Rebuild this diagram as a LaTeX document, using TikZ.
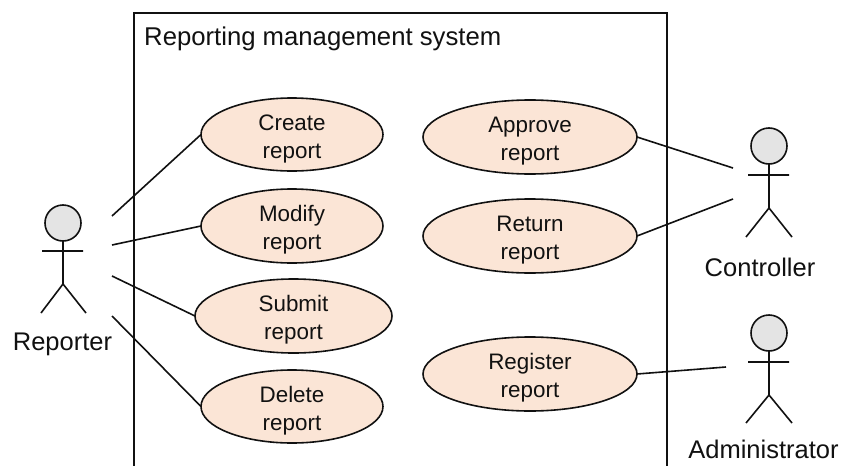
\documentclass[tikz,border=0pt]{standalone}
\usepackage{fontspec}
\setmainfont{Liberation Sans}
\usetikzlibrary{shapes.geometric}
\definecolor{usefill}{HTML}{FBE5D6}
\definecolor{headfill}{HTML}{E4E4E4}
\definecolor{ink}{HTML}{111111}
\newcommand{\uctext}[2]{\raisebox{-9.3pt}[0pt][0pt]{\begin{tabular}{@{}c@{}}#1\\#2\end{tabular}}}
\tikzset{
  usecase/.style={ellipse,draw=ink,fill=usefill,line width=1.6pt,inner sep=0pt,outer sep=0pt,text=ink,font=\fontsize{22.4}{28}\selectfont},
  head/.style={circle,draw=ink,fill=headfill,line width=1.6pt,minimum size=36pt,inner sep=0pt,outer sep=0pt},
  limb/.style={draw=ink,line width=1.6pt},
  link/.style={draw=ink,line width=1.6pt},
  actorname/.style={text=ink,font=\fontsize{25.5}{30}\selectfont,inner sep=0pt},
  title/.style={text=ink,font=\fontsize{25.7}{30}\selectfont,inner sep=0pt,anchor=west}
}
\begin{document}
\begin{tikzpicture}[x=1pt,y=-1pt]
\useasboundingbox (0,0) rectangle (844,466);
\fill[white] (0,0) rectangle (844,466);
% system boundary
\coordinate (bl) at (134,466);
\coordinate (tl) at (134,13);
\coordinate (tr) at (667,13);
\coordinate (br) at (667,466);
\draw[limb] (bl) -- (tl) -- (tr) -- (br);
\node[title] (sys) at (144,39) {Reporting management system};
% connector free ends
\coordinate (r1) at (112,216);
\coordinate (r2) at (112,245);
\coordinate (r3) at (112,276);
\coordinate (r4) at (112,316);
\coordinate (c1) at (733,168);
\coordinate (c2) at (733,199);
\coordinate (a1) at (726,367);
% use cases
\node[usecase,minimum width=182pt,minimum height=73pt] (create) at (292,134.5) {\uctext{Create}{report}};
\node[usecase,minimum width=182pt,minimum height=74pt] (modify) at (292,226) {\uctext{Modify}{report}};
\node[usecase,minimum width=197pt,minimum height=74pt] (submit) at (293.5,316) {\uctext{Submit}{report}};
\node[usecase,minimum width=182pt,minimum height=73pt] (delete) at (292,406.5) {\uctext{Delete}{report}};
\node[usecase,minimum width=214pt,minimum height=74pt] (approve) at (530,137) {\uctext{Approve}{report}};
\node[usecase,minimum width=214pt,minimum height=74pt] (return) at (530,236) {\uctext{Return}{report}};
\node[usecase,minimum width=214pt,minimum height=74pt] (register) at (530,374) {\uctext{Register}{report}};
\draw[link] (r1) -- (create.west);
\draw[link] (r2) -- (modify.west);
\draw[link] (r3) -- (submit.west);
\draw[link] (r4) -- (delete.west);
\draw[link] (approve.east) -- (c1);
\draw[link] (return.east) -- (c2);
\draw[link] (register.east) -- (a1);
% actors
\node[head] (hr) at (63,223) {};
\draw[limb] (hr.south) -- (63,284) (42,251) -- (83,251) (41,313) -- (63,284) -- (86,313);
\node[actorname] (reporter) at (62.5,344.5) {Reporter};
\node[head] (hc) at (769,146) {};
\draw[limb] (hc.south) -- (769,208) (748,175) -- (789,175) (746,237) -- (769,208) -- (792,237);
\node[actorname] (controller) at (760,267) {Controller};
\node[head] (ha) at (769,333) {};
\draw[limb] (ha.south) -- (769,395) (748,362) -- (789,362) (746,423) -- (769,395) -- (792,423);
\node[actorname] (admin) at (763.5,449) {Administrator};
\end{tikzpicture}
\end{document}
